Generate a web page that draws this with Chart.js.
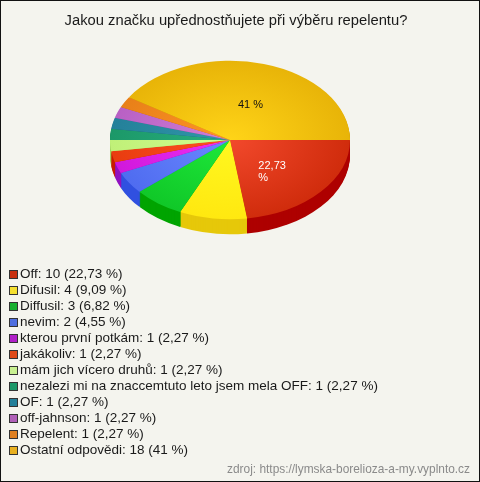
<!DOCTYPE html>
<html>
<head>
<meta charset="utf-8">
<script src="https://cdn.jsdelivr.net/npm/chart.js@4/dist/chart.umd.min.js"></script>
<style>
  html, body { margin: 0; padding: 0; background: #f4f4ee; }
  #wrap { position: relative; width: 480px; height: 482px; overflow: hidden; font-family: "Liberation Sans", Arial, sans-serif; color: #1a1a1a; }
  #frame { position: absolute; inset: 0; border: 1px solid #111; box-sizing: border-box; pointer-events: none; }
  #chart { position: absolute; left: 0; top: 0; }
  #title { position: absolute; left: 0; width: 472px; top: 12px; text-align: center; font-size: 14.75px; white-space: nowrap; }
  #legend { position: absolute; left: 9px; top: 266px; font-size: 13.5px; line-height: 16px; }
  .row { height: 16px; white-space: nowrap; display: flex; align-items: center; }
  .box { width: 7px; height: 7px; border: 1px solid #333; margin-right: 2px; flex: none; }
  #source { position: absolute; right: 10px; top: 462px; font-size: 11.9px; color: #8a8a8a; white-space: nowrap; }
</style>
</head>
<body>
<div id="wrap">
  <canvas id="chart" width="480" height="482"></canvas>
  <div id="title">Jakou značku upřednostňujete při výběru repelentu?</div>
  <div id="legend"></div>
  <div id="source">zdroj: https://lymska-borelioza-a-my.vyplnto.cz</div>
  <div id="frame"></div>
</div>
<script>
const labels = ['Off', 'Difusil', 'Diffusil', 'nevim', 'kterou první potkám', 'jakákoliv', 'mám jich vícero druhů', 'nezalezi mi na znaccemtuto leto jsem mela OFF', 'OF', 'off-jahnson', 'Repelent', 'Ostatní odpovědi'];
const counts = [10, 4, 3, 2, 1, 1, 1, 1, 1, 1, 1, 18];
const percents = ['22,73', '9,09', '6,82', '4,55', '2,27', '2,27', '2,27', '2,27', '2,27', '2,27', '2,27', '41'];

const innerColors = ['#f2492c', '#fff820', '#1ee83a', '#6a88ff', '#ee30f4', '#ff5020', '#d0ff90', '#28b080', '#3098a8', '#d080d8', '#ff9428', '#ffd418'];
const outerColors = ['#d02c0c', '#ffe810', '#10c828', '#4f6cf0', '#d018dc', '#e83c10', '#c0f078', '#1c9868', '#24809a', '#b860c4', '#e88018', '#e8b408'];
const sideColors  = ['#ae0000', '#e6c80a', '#00a400', '#3050e0', '#9010c0', '#c81c00', '#a0d060', '#107850', '#186078', '#904098', '#c06010', '#c09000'];
const legendColors = ['#c8300f', '#f5e030', '#18b030', '#4f6fe0', '#b020c8', '#e04a18', '#c8f090', '#1c9868', '#24809a', '#b060b8', '#e08020', '#e8b020'];

const FLATTEN = 0.66;
const DEPTH = 15;

document.getElementById('legend').innerHTML = labels.map((name, i) => `
  <div class="row"><span class="box" style="background:${legendColors[i]}"></span><span>${name}: ${counts[i]} (${percents[i]} %)</span></div>
`).join('');

function sliceGradient(ctx, i) {
  const area = ctx.chart.chartArea;
  if (!area) return outerColors[i];
  const cx = (area.left + area.right) / 2, cy = (area.top + area.bottom) / 2;
  const g = ctx.chart.ctx.createRadialGradient(cx, cy, 0, cx, cy, (area.right - area.left) / 2);
  g.addColorStop(0, innerColors[i]);
  g.addColorStop(1, outerColors[i]);
  return g;
}

// squash the pie into an ellipse and paint the rim below it
const pie3d = {
  id: 'pie3d',
  beforeDatasetDraw(chart) {
    const c = chart.ctx;
    const arcs = chart.getDatasetMeta(0).data;
    const cy = arcs[0].y;
    for (let d = DEPTH; d >= 1; d--) {
      c.save();
      c.translate(0, cy + d);
      c.scale(1, FLATTEN);
      c.translate(0, -cy);
      arcs.forEach((a, i) => {
        c.fillStyle = sideColors[i];
        c.beginPath();
        c.moveTo(a.x, a.y);
        c.arc(a.x, a.y, a.outerRadius, a.startAngle, a.endAngle);
        c.closePath();
        c.fill();
      });
      c.restore();
    }
    c.save();
    c.translate(0, cy);
    c.scale(1, FLATTEN);
    c.translate(0, -cy);
  },
  afterDatasetDraw(chart) {
    chart.ctx.restore();
    const c = chart.ctx;
    const arcs = chart.getDatasetMeta(0).data;
    const cy = arcs[0].y;
    c.save();
    c.font = '11px "Liberation Sans", Arial, sans-serif';
    c.textBaseline = 'middle';
    // only the first and the last slice carry a label
    let p = arcs[0].tooltipPosition();
    let y = cy + (p.y - cy) * FLATTEN;
    c.fillStyle = '#fff';
    c.fillText(percents[0], p.x - 17, y);
    c.fillText('%', p.x - 17, y + 12);
    p = arcs[11].tooltipPosition();
    y = cy + (p.y - cy) * FLATTEN;
    c.fillStyle = '#111';
    c.fillText(percents[11] + ' %', p.x - 9, y + 3);
    c.restore();
  }
};

new Chart(document.getElementById('chart'), {
  type: 'pie',
  data: {
    labels,
    datasets: [{
      data: counts,
      backgroundColor: ctx => sliceGradient(ctx, ctx.dataIndex),
      borderWidth: 0
    }]
  },
  options: {
    responsive: false,
    animation: false,
    events: [],
    rotation: 90,
    layout: { padding: { left: 110, right: 130, top: 20, bottom: 222 } },
    plugins: { legend: { display: false }, tooltip: { enabled: false } }
  },
  plugins: [pie3d]
});
</script>
</body>
</html>
